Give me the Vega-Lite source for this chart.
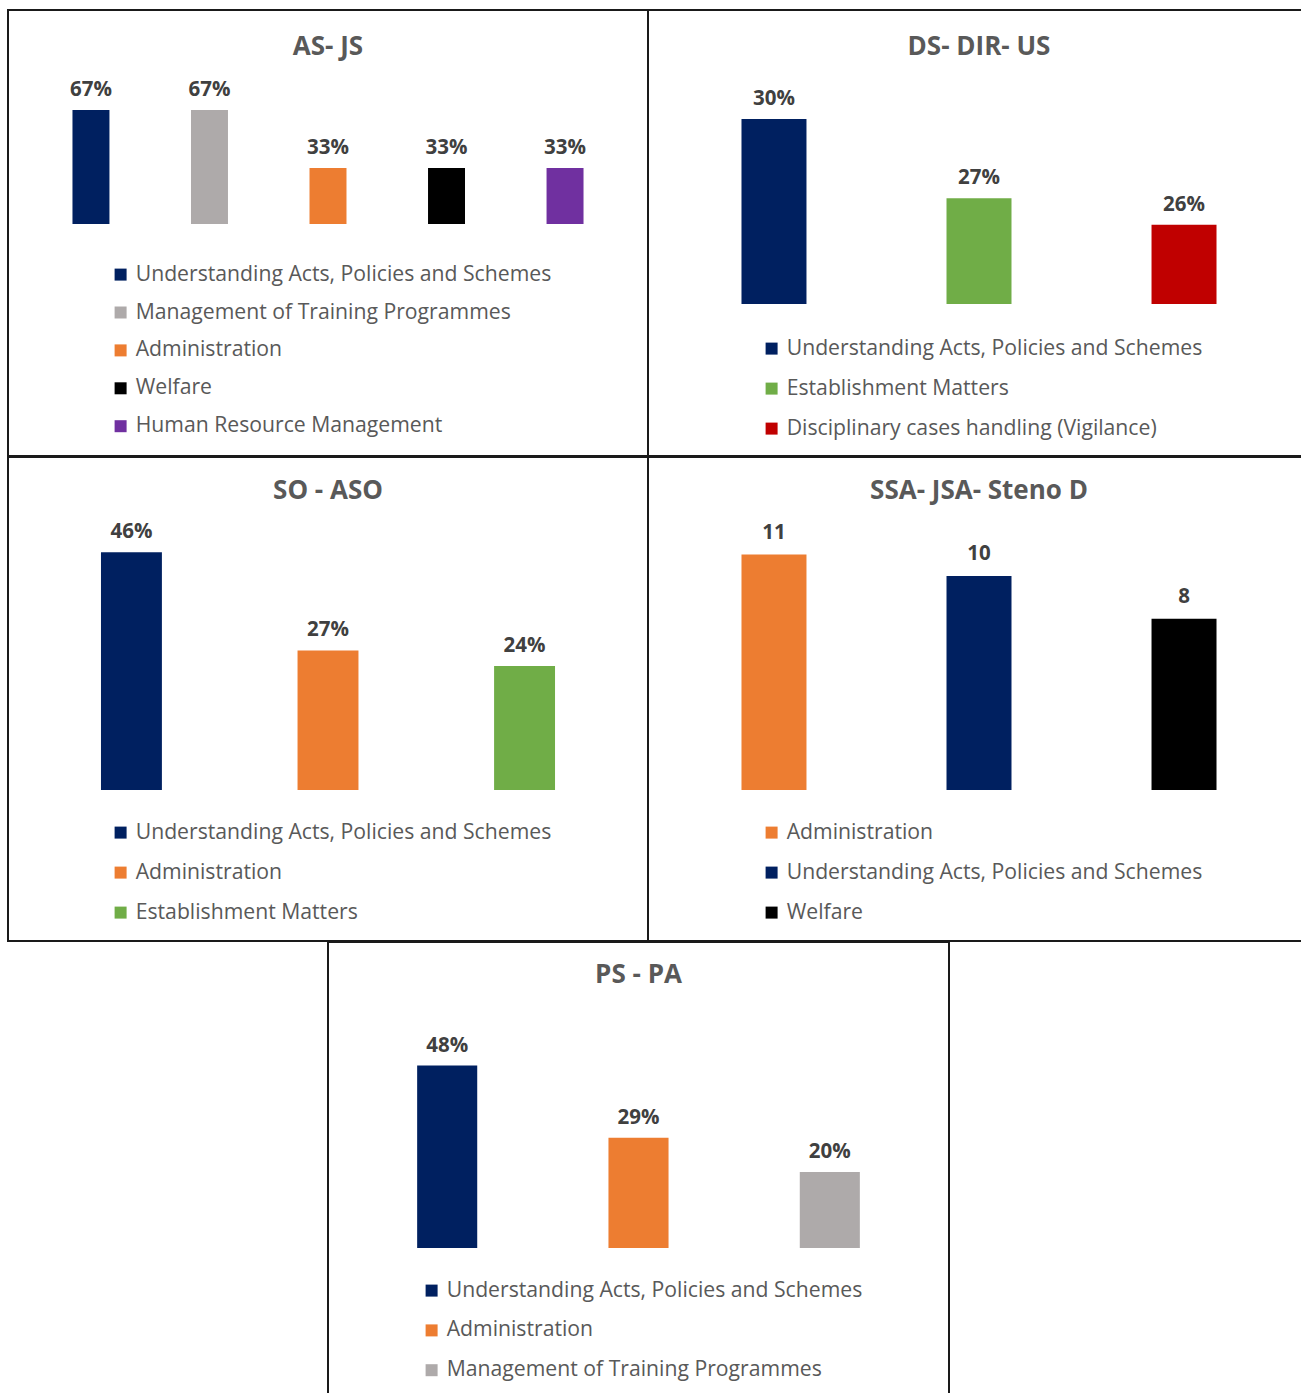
{
  "$schema": "https://vega.github.io/schema/vega-lite/v6.json",
  "padding": {"left": 7, "top": 9, "right": 0, "bottom": 0},
  "autosize": {"type": "pad"},
  "background": "white",
  "config": {
    "font": "Open Sans",
    "view": {"stroke": "#1a1a1a", "strokeWidth": 2},
    "legend": {"padding": 0, "labelFont": "Open Sans", "labelFontSize": 21.2, "labelColor": "#595959", "symbolType": "square", "symbolSize": 144, "symbolStrokeWidth": 0, "symbolOpacity": 1, "labelLimit": 700, "labelOffset": 4.5},
    "title": {"font": "Open Sans", "fontSize": 26, "fontWeight": "bold", "color": "#595959", "anchor": "middle", "frame": "group", "baseline": "top"}
  },
  "datasets": {
    "bars": [
      {"panel": "A", "category": "Understanding Acts, Policies and Schemes", "value": 67, "label": "67%"},
      {"panel": "A", "category": "Management of Training Programmes", "value": 67, "label": "67%"},
      {"panel": "A", "category": "Administration", "value": 33, "label": "33%"},
      {"panel": "A", "category": "Welfare", "value": 33, "label": "33%"},
      {"panel": "A", "category": "Human Resource Management", "value": 33, "label": "33%"},
      {"panel": "B", "category": "Understanding Acts, Policies and Schemes", "value": 30, "label": "30%"},
      {"panel": "B", "category": "Establishment Matters", "value": 27, "label": "27%"},
      {"panel": "B", "category": "Disciplinary cases handling (Vigilance)", "value": 26, "label": "26%"},
      {"panel": "C", "category": "Understanding Acts, Policies and Schemes", "value": 46, "label": "46%"},
      {"panel": "C", "category": "Administration", "value": 27, "label": "27%"},
      {"panel": "C", "category": "Establishment Matters", "value": 24, "label": "24%"},
      {"panel": "D", "category": "Administration", "value": 11, "label": "11"},
      {"panel": "D", "category": "Understanding Acts, Policies and Schemes", "value": 10, "label": "10"},
      {"panel": "D", "category": "Welfare", "value": 8, "label": "8"},
      {"panel": "E", "category": "Understanding Acts, Policies and Schemes", "value": 48, "label": "48%"},
      {"panel": "E", "category": "Administration", "value": 29, "label": "29%"},
      {"panel": "E", "category": "Management of Training Programmes", "value": 20, "label": "20%"}
    ],
    "blank": [{"k": 1}]
  },
  "spacing": -2,
  "resolve": {"scale": {"x": "independent", "y": "independent", "color": "independent"}, "legend": {"color": "independent"}},
  "vconcat": [
    {
      "bounds": "flush",
      "spacing": 0,
      "resolve": {"scale": {"x": "independent", "y": "independent", "color": "independent"}, "legend": {"color": "independent"}},
      "hconcat": [
        {
          "width": 640, "height": 446,
          "data": {"name": "bars"},
          "transform": [{"filter": "datum.panel == 'A'"}],
          "title": {"text": "AS- JS", "offset": -50},
          "encoding": {
            "x": {"field": "category", "type": "nominal", "sort": null, "axis": null, "scale": {"paddingInner": 0.688, "paddingOuter": 0.544}},
            "y": {"field": "value", "type": "quantitative", "axis": null, "scale": {"domain": [-136.5, 125.9], "nice": false, "zero": false}}
          },
          "layer": [
            {
              "mark": {"type": "bar"},
              "encoding": {
                "y2": {"datum": 0},
                "color": {"field": "category", "type": "nominal",
                  "scale": {"domain": ["Understanding Acts, Policies and Schemes", "Management of Training Programmes", "Administration", "Welfare", "Human Resource Management"], "range": ["#002060", "#AEAAAA", "#ED7D31", "#000000", "#7030A0"]},
                  "legend": {"title": null, "orient": "none", "legendX": 102, "legendY": 254, "rowPadding": 15.9}}
              }
            },
            {
              "mark": {"type": "text", "baseline": "alphabetic", "dy": -14, "fontWeight": "bold", "fontSize": 20.5, "color": "#404040"},
              "encoding": {"text": {"field": "label"}}
            }
          ]
        },
        {
          "width": 662, "height": 446,
          "data": {"name": "bars"},
          "transform": [{"filter": "datum.panel == 'B'"}],
          "title": {"text": "DS- DIR- US", "offset": -50},
          "encoding": {
            "x": {"field": "category", "type": "nominal", "sort": null, "axis": null, "scale": {"paddingInner": 0.683, "paddingOuter": 0.456}},
            "y": {"field": "value", "type": "quantitative", "axis": null, "scale": {"domain": [17.25, 34.12], "nice": false, "zero": false}}
          },
          "layer": [
            {
              "mark": {"type": "bar"},
              "encoding": {
                "y2": {"datum": 23},
                "color": {"field": "category", "type": "nominal",
                  "scale": {"domain": ["Understanding Acts, Policies and Schemes", "Establishment Matters", "Disciplinary cases handling (Vigilance)"], "range": ["#002060", "#70AD47", "#C00000"]},
                  "legend": {"title": null, "orient": "none", "legendX": 113, "legendY": 328, "rowPadding": 18}}
              }
            },
            {
              "mark": {"type": "text", "baseline": "alphabetic", "dy": -14, "fontWeight": "bold", "fontSize": 20.5, "color": "#404040"},
              "encoding": {"text": {"field": "label"}}
            }
          ]
        }
      ]
    },
    {
      "bounds": "flush",
      "spacing": 0,
      "resolve": {"scale": {"x": "independent", "y": "independent", "color": "independent"}, "legend": {"color": "independent"}},
      "hconcat": [
        {
          "width": 640, "height": 484,
          "data": {"name": "bars"},
          "transform": [{"filter": "datum.panel == 'C'"}],
          "title": {"text": "SO - ASO", "offset": -47},
          "encoding": {
            "x": {"field": "category", "type": "nominal", "sort": null, "axis": null, "scale": {"paddingInner": 0.69, "paddingOuter": 0.473}},
            "y": {"field": "value", "type": "quantitative", "axis": null, "scale": {"domain": [-29.2, 64.4], "nice": false, "zero": false}}
          },
          "layer": [
            {
              "mark": {"type": "bar"},
              "encoding": {
                "y2": {"datum": 0},
                "color": {"field": "category", "type": "nominal",
                  "scale": {"domain": ["Understanding Acts, Policies and Schemes", "Administration", "Establishment Matters"], "range": ["#002060", "#ED7D31", "#70AD47"]},
                  "legend": {"title": null, "orient": "none", "legendX": 102, "legendY": 365, "rowPadding": 18}}
              }
            },
            {
              "mark": {"type": "text", "baseline": "alphabetic", "dy": -14, "fontWeight": "bold", "fontSize": 20.5, "color": "#404040"},
              "encoding": {"text": {"field": "label"}}
            }
          ]
        },
        {
          "width": 662, "height": 484,
          "data": {"name": "bars"},
          "transform": [{"filter": "datum.panel == 'D'"}],
          "title": {"text": "SSA- JSA- Steno D", "offset": -47},
          "encoding": {
            "x": {"field": "category", "type": "nominal", "sort": null, "axis": null, "scale": {"paddingInner": 0.683, "paddingOuter": 0.456}},
            "y": {"field": "value", "type": "quantitative", "axis": null, "scale": {"domain": [-7.06, 15.56], "nice": false, "zero": false}}
          },
          "layer": [
            {
              "mark": {"type": "bar"},
              "encoding": {
                "y2": {"datum": 0},
                "color": {"field": "category", "type": "nominal",
                  "scale": {"domain": ["Administration", "Understanding Acts, Policies and Schemes", "Welfare"], "range": ["#ED7D31", "#002060", "#000000"]},
                  "legend": {"title": null, "orient": "none", "legendX": 113, "legendY": 365, "rowPadding": 18}}
              }
            },
            {
              "mark": {"type": "text", "baseline": "alphabetic", "dy": -16, "fontWeight": "bold", "fontSize": 20.5, "color": "#404040"},
              "encoding": {"text": {"field": "label"}}
            }
          ]
        }
      ]
    },
    {
      "bounds": "flush",
      "spacing": 0,
      "resolve": {"scale": {"x": "independent", "y": "independent", "color": "independent"}, "legend": {"color": "independent"}},
      "hconcat": [
        {
          "width": 320, "height": 10,
          "data": {"name": "blank"},
          "view": {"stroke": null},
          "mark": {"type": "point", "opacity": 0},
          "encoding": {}
        },
        {
          "width": 621, "height": 460,
          "data": {"name": "bars"},
          "transform": [{"filter": "datum.panel == 'E'"}],
          "title": {"text": "PS - PA", "offset": -46},
          "encoding": {
            "x": {"field": "category", "type": "nominal", "sort": null, "axis": null, "scale": {"paddingInner": 0.686, "paddingOuter": 0.466}},
            "y": {"field": "value", "type": "quantitative", "axis": null, "scale": {"domain": [-40.5, 80.5], "nice": false, "zero": false}}
          },
          "layer": [
            {
              "mark": {"type": "bar"},
              "encoding": {
                "y2": {"datum": 0},
                "color": {"field": "category", "type": "nominal",
                  "scale": {"domain": ["Understanding Acts, Policies and Schemes", "Administration", "Management of Training Programmes"], "range": ["#002060", "#ED7D31", "#AEAAAA"]},
                  "legend": {"title": null, "orient": "none", "legendX": 93, "legendY": 338, "rowPadding": 17.8}}
              }
            },
            {
              "mark": {"type": "text", "baseline": "alphabetic", "dy": -14, "fontWeight": "bold", "fontSize": 20.5, "color": "#404040"},
              "encoding": {"text": {"field": "label"}}
            }
          ]
        }
      ]
    }
  ]
}
